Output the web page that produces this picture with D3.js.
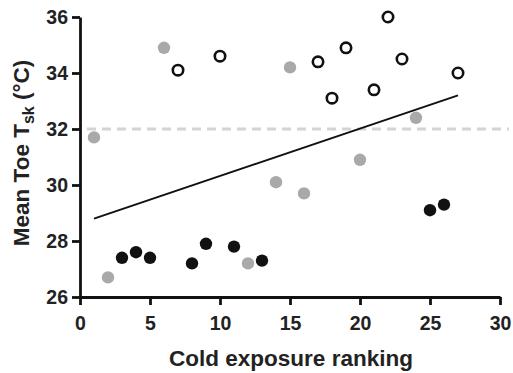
<!DOCTYPE html>
<html>
<head>
<meta charset="utf-8">
<script src="https://cdn.jsdelivr.net/npm/d3@7"></script>
<style>
  body { margin: 0; background: #fff; }
  svg text { font-family: "Liberation Sans", Arial, sans-serif; font-weight: bold; fill: #222; }
</style>
</head>
<body>
<div id="chart"></div>
<script>
// grey filled points
var greyX = [1, 2, 6, 12, 14, 15, 16, 20, 24];
var greyY = [31.7, 26.7, 34.9, 27.2, 30.1, 34.2, 29.7, 30.9, 32.4];
// black filled points
var blackX = [3, 4, 5, 8, 9, 11, 13, 25, 26];
var blackY = [27.4, 27.6, 27.4, 27.2, 27.9, 27.8, 27.3, 29.1, 29.3];
// open points
var openX = [7, 10, 17, 18, 19, 21, 22, 23, 27];
var openY = [34.1, 34.6, 34.4, 33.1, 34.9, 33.4, 36.0, 34.5, 34.0];
// fitted line ends
var fitX = [1, 27];
var fitY = [28.8, 33.2];
var refY = 32;
var xTicks = [0, 5, 10, 15, 20, 25, 30];
var yTicks = [26, 28, 30, 32, 34, 36];

var width = 513, height = 373;
var margin = {top: 17, right: 13, bottom: 76, left: 80};
var w = width - margin.left - margin.right;
var h = height - margin.top - margin.bottom;

var x = d3.scaleLinear().domain([0, 30]).range([0, w]);
var y = d3.scaleLinear().domain([26, 36]).range([h, 0]);

var svg = d3.select("#chart").append("svg")
  .attr("width", width)
  .attr("height", height)
  .append("g")
  .attr("transform", "translate(" + margin.left + "," + margin.top + ")");

// dashed reference line
svg.append("line")
  .attr("x1", 7).attr("x2", w + 9)
  .attr("y1", y(refY)).attr("y2", y(refY))
  .style("stroke", "#d4d4d4")
  .style("stroke-width", 3)
  .style("stroke-dasharray", "9,6");

// fitted line
svg.append("line")
  .attr("x1", x(fitX[0])).attr("x2", x(fitX[1]))
  .attr("y1", y(fitY[0])).attr("y2", y(fitY[1]))
  .style("stroke", "#111")
  .style("stroke-width", 2);

function pts(xs, ys) { return xs.map(function(d, i) { return [d, ys[i]]; }); }

svg.selectAll(".grey").data(pts(greyX, greyY)).enter().append("circle")
  .attr("cx", function(d) { return x(d[0]); })
  .attr("cy", function(d) { return y(d[1]); })
  .attr("r", 6.2)
  .style("fill", "#a8a9ab");

svg.selectAll(".black").data(pts(blackX, blackY)).enter().append("circle")
  .attr("cx", function(d) { return x(d[0]); })
  .attr("cy", function(d) { return y(d[1]); })
  .attr("r", 6.2)
  .style("fill", "#111");

svg.selectAll(".open").data(pts(openX, openY)).enter().append("circle")
  .attr("cx", function(d) { return x(d[0]); })
  .attr("cy", function(d) { return y(d[1]); })
  .attr("r", 5.2)
  .style("fill", "#fff")
  .style("stroke", "#111")
  .style("stroke-width", 2.6);

// axes
var xAxis = svg.append("g")
  .attr("transform", "translate(0," + h + ")")
  .call(d3.axisBottom(x).tickValues(xTicks).tickSize(8).tickSizeOuter(0).tickPadding(11.5));
var yAxis = svg.append("g")
  .call(d3.axisLeft(y).tickValues(yTicks).tickSize(8).tickSizeOuter(0).tickPadding(4));

[xAxis, yAxis].forEach(function(a) {
  a.select(".domain").style("stroke", "#111").style("stroke-width", 2.8);
  a.selectAll(".tick line").style("stroke", "#111").style("stroke-width", 2.8);
  a.selectAll("text").style("font-size", "19.5px").style("font-family", "Liberation Sans, Arial, sans-serif")
    .style("font-weight", "bold").style("fill", "#222");
});

// axis titles
svg.append("text")
  .attr("x", w / 2 + 1)
  .attr("y", h + 69)
  .attr("text-anchor", "middle")
  .style("font-size", "22.5px")
  .text("Cold exposure ranking");

var yl = svg.append("text")
  .attr("transform", "translate(" + (29 - margin.left) + "," + (153 - margin.top) + ") rotate(-90)")
  .attr("text-anchor", "middle")
  .style("font-size", "22.5px");
yl.append("tspan").text("Mean Toe T");
yl.append("tspan").attr("dy", 5).style("font-size", "16px").text("sk");
yl.append("tspan").attr("dy", -5).text(" (°C)");
</script>
</body>
</html>
